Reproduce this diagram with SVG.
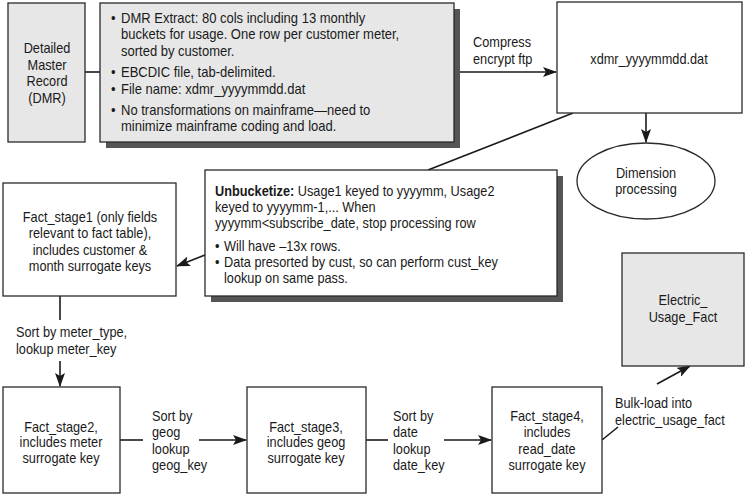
<svg xmlns="http://www.w3.org/2000/svg" width="746" height="494" viewBox="0 0 746 494">
<style>
.t{font-family:"Liberation Sans",Arial,sans-serif;font-size:14px;fill:#1a1a1a}
.c{text-anchor:middle}
.b{font-weight:bold}
.box{stroke:#2a2a2a;stroke-width:1.3}
.gray{fill:#e7e7e7}
.white{fill:#ffffff}
.shadow{fill:#555555}
.ln{stroke:#1a1a1a;stroke-width:1.6;fill:none}
</style>
<defs>
<marker id="ah" markerUnits="userSpaceOnUse" markerWidth="14" markerHeight="10" refX="13" refY="5" orient="auto">
<path d="M0,0 L14,5 L0,10 L3,5 z" fill="#1a1a1a"/>
</marker>
</defs>
<rect width="746" height="494" fill="#ffffff"/>

<g id="connectors">
<line class="ln" x1="85" y1="72" x2="100" y2="72"/>
<line class="ln" x1="460" y1="72" x2="556" y2="72" marker-end="url(#ah)"/>
<line class="ln" x1="646" y1="113" x2="646" y2="142" marker-end="url(#ah)"/>
<line class="ln" x1="573" y1="113" x2="428" y2="170"/>
<line class="ln" x1="205" y1="255" x2="177" y2="266" marker-end="url(#ah)"/>
<line class="ln" x1="60" y1="296" x2="60" y2="320"/>
<line class="ln" x1="60" y1="361" x2="60" y2="386" marker-end="url(#ah)"/>
<line class="ln" x1="120" y1="440" x2="143" y2="440"/>
<line class="ln" x1="199" y1="440" x2="246" y2="440" marker-end="url(#ah)"/>
<line class="ln" x1="366" y1="440" x2="388" y2="440"/>
<line class="ln" x1="444" y1="440" x2="491" y2="440" marker-end="url(#ah)"/>
<line class="ln" x1="602" y1="440" x2="618" y2="427"/>
<line class="ln" x1="657" y1="384" x2="690" y2="366" marker-end="url(#ah)"/>
<text class="t" transform="translate(473,47) scale(0.91,1)"><tspan x="0">Compress</tspan><tspan x="0" dy="17">encrypt ftp</tspan></text>
<text class="t" transform="translate(16,337) scale(0.91,1)"><tspan x="0">Sort by meter_type,</tspan><tspan x="0" dy="17">lookup meter_key</tspan></text>
<text class="t" transform="translate(152,421) scale(0.91,1)"><tspan x="0">Sort by</tspan><tspan x="0" dy="16.3">geog</tspan><tspan x="0" dy="16.3">lookup</tspan><tspan x="0" dy="16.3">geog_key</tspan></text>
<text class="t" transform="translate(393,421) scale(0.91,1)"><tspan x="0">Sort by</tspan><tspan x="0" dy="16.3">date</tspan><tspan x="0" dy="16.3">lookup</tspan><tspan x="0" dy="16.3">date_key</tspan></text>
<text class="t" transform="translate(615,408) scale(0.91,1)"><tspan x="0">Bulk-load into</tspan><tspan x="0" dy="17">electric_usage_fact</tspan></text>
</g>

<g id="dmr">
<rect class="box gray" x="8" y="3" width="77" height="139"/>
<text class="t c" transform="translate(47,53) scale(0.91,1)"><tspan x="0">Detailed</tspan><tspan x="0" dy="16.6">Master</tspan><tspan x="0" dy="16.6">Record</tspan><tspan x="0" dy="16.6">(DMR)</tspan></text>
</g>

<g id="extract">
<rect class="shadow" x="106" y="9" width="354" height="139"/>
<rect class="box gray" x="100" y="3" width="354" height="139"/>
<text class="t" transform="translate(111,23) scale(0.93,1)">•</text>
<text class="t" transform="translate(121,23) scale(0.93,1)"><tspan x="0">DMR Extract: 80 cols including 13 monthly</tspan><tspan x="0" dy="16.5">buckets for usage. One row per customer meter,</tspan><tspan x="0" dy="16.5">sorted by customer.</tspan></text>
<text class="t" transform="translate(111,77) scale(0.93,1)">•</text>
<text class="t" transform="translate(121,77) scale(0.93,1)">EBCDIC file, tab-delimited.</text>
<text class="t" transform="translate(111,94) scale(0.93,1)">•</text>
<text class="t" transform="translate(121,94) scale(0.93,1)">File name: xdmr_yyyymmdd.dat</text>
<text class="t" transform="translate(111,115) scale(0.93,1)">•</text>
<text class="t" transform="translate(121,115) scale(0.93,1)"><tspan x="0">No transformations on mainframe—need to</tspan><tspan x="0" dy="16.5">minimize mainframe coding and load.</tspan></text>
</g>

<g id="xdmr">
<rect class="box white" x="557" y="2" width="185" height="111"/>
<text class="t c" transform="translate(649,64) scale(0.91,1)">xdmr_yyyymmdd.dat</text>
</g>

<g id="dimension">
<ellipse class="box white" cx="646" cy="181" rx="69" ry="38"/>
<text class="t c" transform="translate(646,178) scale(0.91,1)"><tspan x="0">Dimension</tspan><tspan x="0" dy="16.5">processing</tspan></text>
</g>

<g id="unbucketize">
<rect class="shadow" x="211" y="176" width="352" height="126"/>
<rect class="box white" x="205" y="170" width="352" height="126"/>
<text class="t" transform="translate(215,196) scale(0.91,1)"><tspan x="0"><tspan class="b">Unbucketize:</tspan> Usage1 keyed to yyyymm, Usage2</tspan><tspan x="0" dy="16">keyed to yyyymm-1,... When</tspan><tspan x="0" dy="16">yyyymm&lt;subscribe_date, stop processing row</tspan></text>
<text class="t" transform="translate(215,251) scale(0.91,1)">•</text>
<text class="t" transform="translate(224,251) scale(0.91,1)">Will have –13x rows.</text>
<text class="t" transform="translate(215,267) scale(0.91,1)">•</text>
<text class="t" transform="translate(224,267) scale(0.91,1)"><tspan x="0">Data presorted by cust, so can perform cust_key</tspan><tspan x="0" dy="16">lookup on same pass.</tspan></text>
</g>

<g id="fact_stage1">
<rect class="box white" x="3" y="183" width="173" height="113"/>
<text class="t c" transform="translate(90,222) scale(0.91,1)"><tspan x="0">Fact_stage1 (only fields</tspan><tspan x="0" dy="16.5">relevant to fact table),</tspan><tspan x="0" dy="16.5">includes customer &amp;</tspan><tspan x="0" dy="16.5">month surrogate keys</tspan></text>
</g>

<g id="fact_stage2">
<rect class="box white" x="3" y="387" width="117" height="106"/>
<text class="t c" transform="translate(61,432) scale(0.91,1)"><tspan x="0">Fact_stage2,</tspan><tspan x="0" dy="15.5">includes meter</tspan><tspan x="0" dy="15.5">surrogate key</tspan></text>
</g>

<g id="fact_stage3">
<rect class="box white" x="247" y="387" width="119" height="106"/>
<text class="t c" transform="translate(306,432) scale(0.91,1)"><tspan x="0">Fact_stage3,</tspan><tspan x="0" dy="15.5">includes geog</tspan><tspan x="0" dy="15.5">surrogate key</tspan></text>
</g>

<g id="fact_stage4">
<rect class="box white" x="492" y="387" width="110" height="106"/>
<text class="t c" transform="translate(547,421) scale(0.91,1)"><tspan x="0">Fact_stage4,</tspan><tspan x="0" dy="16.3">includes</tspan><tspan x="0" dy="16.3">read_date</tspan><tspan x="0" dy="16.3">surrogate key</tspan></text>
</g>

<g id="electric_usage_fact">
<rect class="box gray" x="622" y="253" width="122" height="113"/>
<text class="t c" transform="translate(683,305) scale(0.91,1)"><tspan x="0">Electric_</tspan><tspan x="0" dy="17">Usage_Fact</tspan></text>
</g>
</svg>
